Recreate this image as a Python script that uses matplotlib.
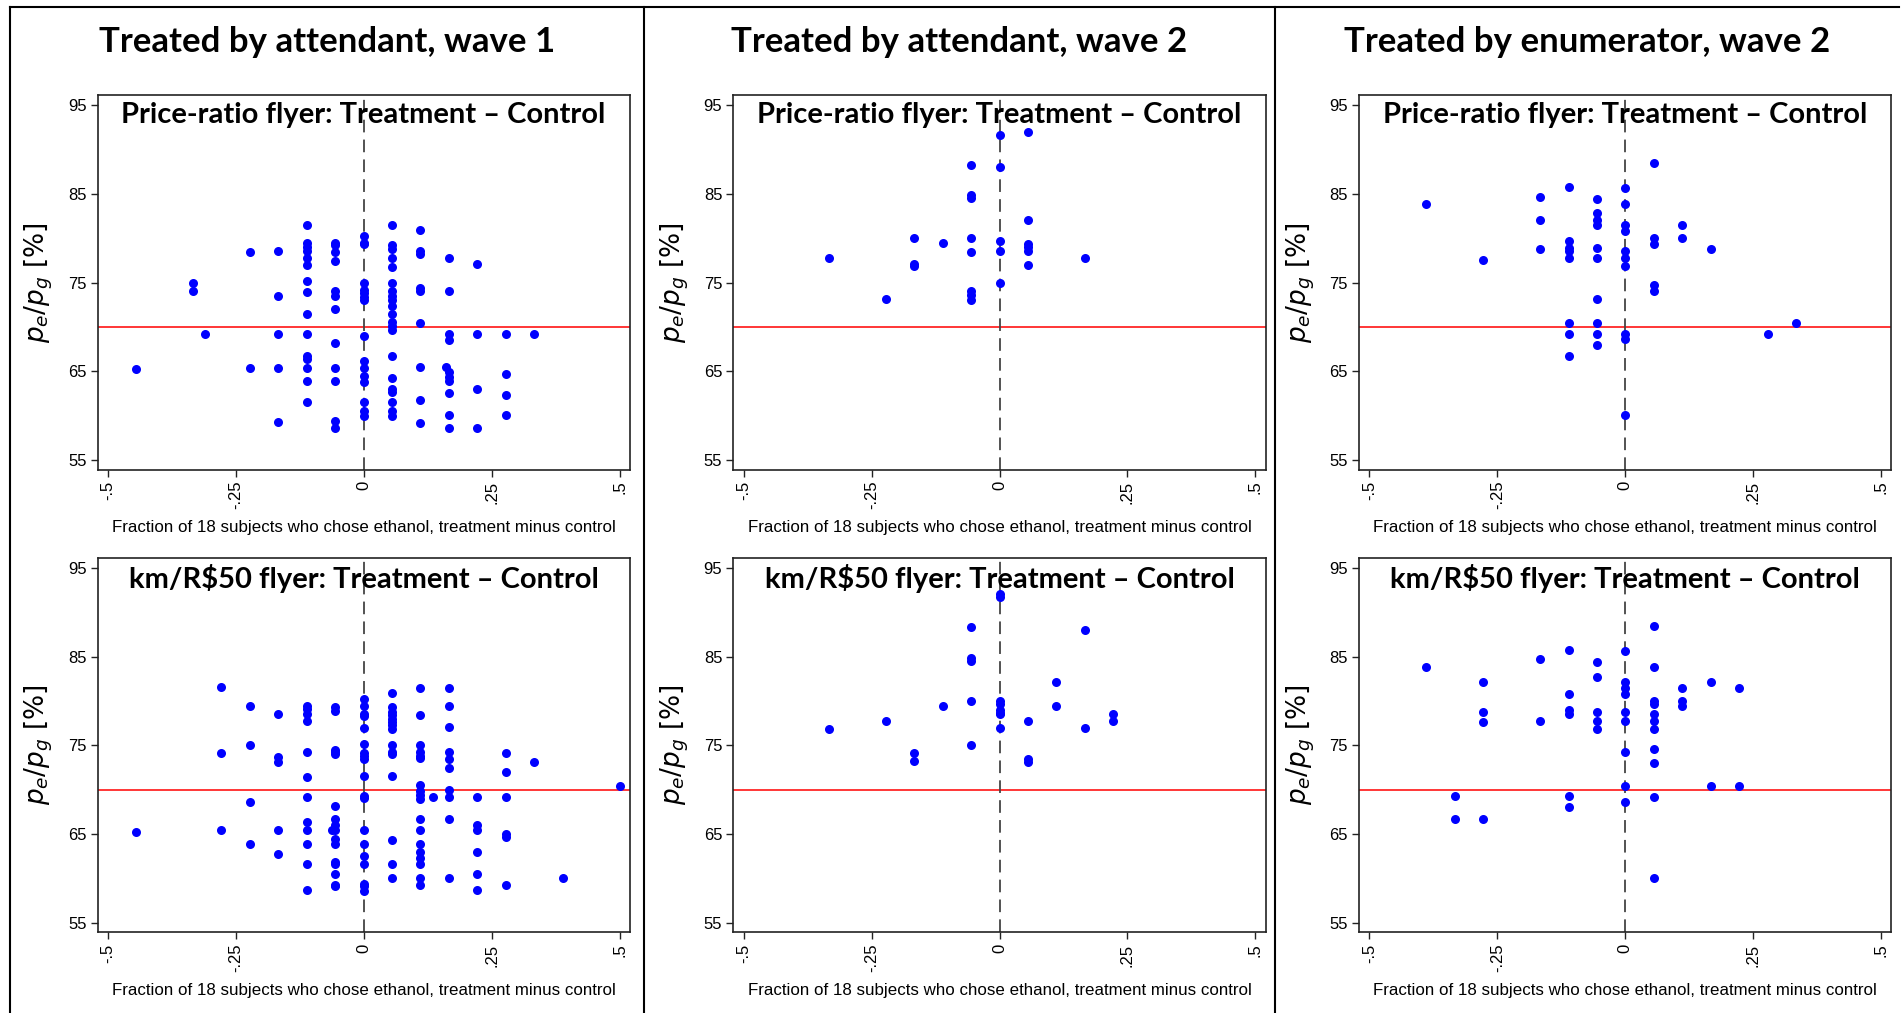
import numpy as np
import matplotlib
matplotlib.use("Agg")
import matplotlib.pyplot as plt
from matplotlib.lines import Line2D

# ---------------- data ----------------
col_titles = ["Treated by attendant, wave 1", "Treated by attendant, wave 2", "Treated by enumerator, wave 2"]
row_titles = ["Price-ratio flyer: Treatment \u2013 Control", "km/R$50 flyer: Treatment \u2013 Control"]
x_label = "Fraction of 18 subjects who chose ethanol, treatment minus control"
y_label = r"$p_e/p_g$ [%]"
x_ticks = [-0.5, -0.25, 0, 0.25, 0.5]
x_ticklabels = ["-.5", "-.25", "0", ".25", ".5"]
y_ticks = [55, 65, 75, 85, 95]
ref_ratio = 70

# Panel: attendant wave 1, price-ratio flyer
att1_pr_x = [-0.444, -0.333, -0.31, -0.222, -0.167, -0.111, -0.056, 0.0, 0.056, 0.111, 0.160, 0.167, 0.222, 0.278, 0.333]
att1_pr_y = [
    [65.2],
    [75.0, 74.1],
    [69.2],
    [78.4, 65.4],
    [78.6, 73.5, 69.2, 65.4, 59.25],
    [81.5, 79.5, 79.0, 78.6, 77.8, 77.0, 75.2, 73.9, 71.5, 69.2, 66.7, 66.4, 65.4, 63.9, 61.5],
    [79.5, 79.2, 78.4, 77.4, 74.1, 73.5, 72.0, 68.2, 65.4, 63.9, 59.4, 58.6],
    [80.2, 79.5, 79.3, 75.0, 74.2, 73.8, 73.4, 73.0, 69.0, 66.1, 65.4, 64.4, 63.8, 61.5, 60.5, 59.9],
    [81.5, 79.2, 78.8, 77.8, 76.8, 75.0, 74.1, 73.5, 73.0, 72.4, 71.5, 70.5, 70.1, 69.6, 66.7, 64.2, 63.0, 62.7, 61.5, 60.5, 59.9],
    [80.9, 78.6, 78.2, 74.4, 74.1, 70.4, 65.5, 61.7, 59.2],
    [65.5],
    [77.8, 74.1, 69.2, 68.5, 64.9, 64.3, 63.9, 62.5, 60.0, 58.6],
    [77.1, 69.2, 63.0, 58.6],
    [69.2, 64.7, 62.3, 60.0],
    [69.2],
]

# Panel: attendant wave 2, price-ratio flyer
att2_pr_x = [-0.333, -0.222, -0.167, -0.111, -0.056, 0.0, 0.056, 0.167]
att2_pr_y = [
    [77.8],
    [73.2],
    [80.0, 77.1, 76.9],
    [79.5],
    [88.3, 84.9, 84.5, 80.0, 78.4, 74.1, 73.6, 73.0],
    [91.7, 88.0, 79.7, 78.6, 75.0],
    [92.0, 82.1, 79.4, 79.0, 78.6, 77.0],
    [77.8],
]

# Panel: enumerator wave 2, price-ratio flyer
enu2_pr_x = [-0.389, -0.278, -0.167, -0.111, -0.056, 0.0, 0.056, 0.111, 0.167, 0.278, 0.333]
enu2_pr_y = [
    [83.9],
    [77.5],
    [84.7, 82.1, 78.8],
    [85.8, 79.7, 78.9, 78.6, 77.8, 70.4, 69.2, 66.7],
    [84.4, 82.8, 82.1, 81.5, 78.9, 77.8, 73.1, 70.4, 69.2, 68.0],
    [85.7, 83.9, 81.5, 80.8, 78.6, 77.8, 76.9, 69.2, 68.6, 60.0],
    [88.5, 80.0, 79.4, 74.7, 74.1],
    [81.5, 80.0],
    [78.8],
    [69.2],
    [70.4],
]

# Panel: attendant wave 1, km/R$50 flyer
att1_km_x = [-0.444, -0.278, -0.222, -0.167, -0.111, -0.062, -0.056, 0.0, 0.056, 0.111, 0.135, 0.167, 0.222, 0.278, 0.333, 0.389, 0.5]
att1_km_y = [
    [65.2],
    [81.6, 74.1, 65.4],
    [79.5, 75.0, 68.6, 63.9],
    [78.6, 73.7, 73.1, 65.4, 62.8],
    [79.5, 79.1, 78.6, 77.8, 74.2, 71.4, 69.2, 66.4, 65.4, 63.9, 61.6, 58.7],
    [65.4],
    [79.3, 78.9, 74.5, 74.3, 74.0, 68.2, 66.7, 66.05, 65.4, 64.4, 63.9, 61.8, 61.6, 60.5, 59.3, 59.1],
    [80.2, 79.4, 78.6, 78.3, 77.0, 75.2, 74.1, 73.8, 73.5, 71.5, 69.3, 69.1, 65.4, 63.9, 62.5, 61.6, 59.4, 59.1, 58.6],
    [80.9, 79.3, 78.8, 78.4, 78.0, 77.6, 77.3, 76.8, 75.1, 74.2, 74.0, 71.5, 64.3, 61.6, 60.05],
    [81.5, 78.4, 75.1, 74.2, 73.8, 73.6, 70.5, 69.8, 69.4, 69.0, 66.7, 65.4, 63.9, 63.0, 62.3, 61.6, 60.05, 59.2],
    [69.2],
    [81.5, 79.5, 77.1, 74.2, 73.5, 72.5, 70.0, 69.2, 66.7, 60.05],
    [69.2, 66.05, 65.5, 63.0, 60.5, 58.7],
    [74.1, 72.0, 69.2, 65.0, 64.7, 59.3],
    [73.1],
    [60.05],
    [70.4],
]

# Panel: attendant wave 2, km/R$50 flyer
att2_km_x = [-0.333, -0.222, -0.167, -0.111, -0.056, 0.0, 0.056, 0.111, 0.167, 0.222]
att2_km_y = [
    [76.8],
    [77.8],
    [74.1, 73.2],
    [79.5],
    [88.4, 84.9, 84.5, 80.0, 75.0],
    [92.1, 91.7, 80.0, 79.7, 79.0, 78.7, 78.5, 77.0],
    [77.8, 73.5, 73.1],
    [82.2, 79.5],
    [88.0, 77.0],
    [78.6, 77.8],
]

# Panel: enumerator wave 2, km/R$50 flyer
enu2_km_x = [-0.389, -0.333, -0.278, -0.167, -0.111, -0.056, 0.0, 0.056, 0.111, 0.167, 0.222]
enu2_km_y = [
    [83.9],
    [69.25, 66.7],
    [82.1, 78.8, 77.6, 66.7],
    [84.7, 77.7],
    [85.75, 80.8, 79.0, 78.6, 69.25, 68.0],
    [84.4, 82.7, 78.8, 77.8, 76.8],
    [85.7, 82.2, 81.5, 80.8, 78.8, 77.8, 74.2, 70.4, 68.6],
    [88.5, 83.9, 80.0, 79.7, 78.6, 77.8, 76.8, 74.6, 73.0, 69.2, 60.0],
    [81.5, 80.0, 79.4],
    [82.1, 70.4],
    [81.5, 70.4],
]

panels = [
    [(att1_pr_x, att1_pr_y), (att2_pr_x, att2_pr_y), (enu2_pr_x, enu2_pr_y)],
    [(att1_km_x, att1_km_y), (att2_km_x, att2_km_y), (enu2_km_x, enu2_km_y)],
]

# ---------------- layout ----------------
W, H = 1901, 1013
fig = plt.figure(figsize=(W / 100, H / 100), dpi=100)
fig.patch.set_facecolor("white")

col_lefts = [0.0513, 0.3858, 0.7150]
col_width = 0.280
row_bottoms = [0.5365, 0.0796]
row_height = 0.370

title_font = "Lato"
tick_font = "Liberation Sans"

for r in range(2):
    for c in range(3):
        ax = fig.add_axes([col_lefts[c], row_bottoms[r], col_width, row_height])
        xs, ys = panels[r][c]
        px = np.concatenate([[xv] * len(yv) for xv, yv in zip(xs, ys)])
        py = np.concatenate([np.asarray(yv, dtype=float) for yv in ys])
        ax.axhline(ref_ratio, color="#ff0000", lw=1.1, zorder=1)
        ax.axvline(0, color="#444444", lw=1.3, ls=(0, (7, 4)), zorder=1)
        ax.plot(px, py, "o", color="#0000ff", ms=6.5, mec="none", zorder=3)
        ax.set_xlim(-0.52, 0.52)
        ax.set_ylim(53.9, 96.2)
        ax.set_xticks(x_ticks)
        ax.set_xticklabels(x_ticklabels, rotation=90, fontfamily=tick_font, fontsize=12)
        ax.set_yticks(y_ticks)
        ax.set_yticklabels([str(v) for v in y_ticks], fontfamily=tick_font, fontsize=12)
        ax.tick_params(direction="out", length=5, width=1, color="#222222", pad=3)
        for sp in ax.spines.values():
            sp.set_color("#222222")
            sp.set_linewidth(1.2)
        ax.set_xlabel(x_label, fontfamily=tick_font, fontsize=12.2, labelpad=8)
        ax.set_ylabel(y_label, fontsize=19, labelpad=9)
        ax.text(0.5, 0.945, row_titles[r], transform=ax.transAxes, ha="center", va="center",
                fontfamily=title_font, fontweight="bold", fontsize=21, zorder=5)

col_centers = [0.172, 0.5048, 0.835]
for c in range(3):
    fig.text(col_centers[c], 0.959, col_titles[c], ha="center", va="center",
             fontfamily=title_font, fontweight="bold", fontsize=25)

# column frames
line_kw = dict(color="black", lw=1.5, transform=fig.transFigure)
fig.add_artist(Line2D([0.005, 0.999], [0.993, 0.993], **line_kw))
fig.add_artist(Line2D([0.005, 0.005], [0.0, 0.993], **line_kw))
fig.add_artist(Line2D([0.3386, 0.3386], [0.0, 0.993], **line_kw))
fig.add_artist(Line2D([0.6709, 0.6709], [0.0, 0.993], **line_kw))

fig.savefig("out.png", dpi=100, facecolor="white")
